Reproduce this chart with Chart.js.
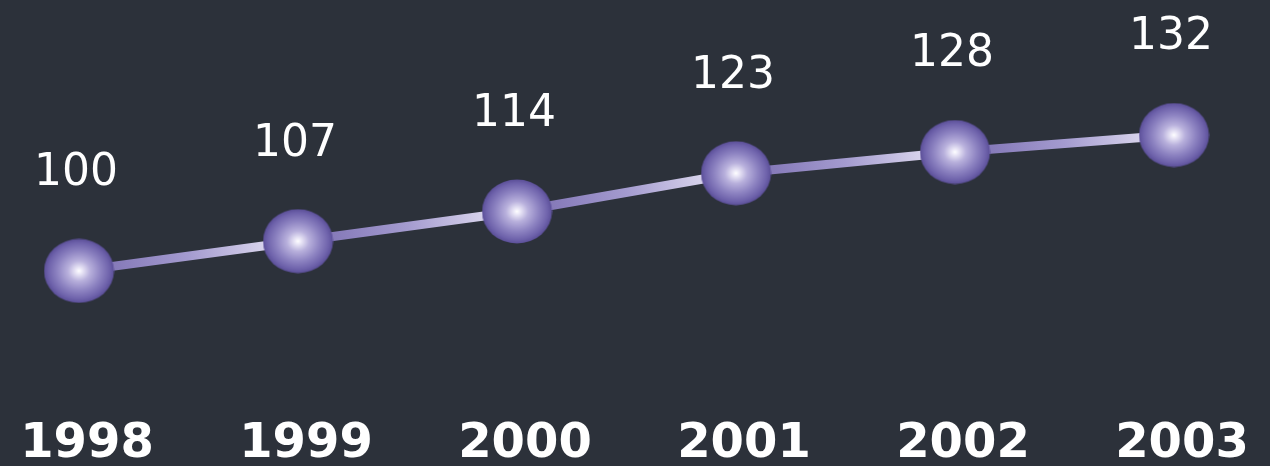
<!DOCTYPE html>
<html>
<head>
<meta charset="utf-8">
<script src="https://cdn.jsdelivr.net/npm/chart.js@4.4.1/dist/chart.umd.min.js"></script>
<style>
  html, body { margin: 0; padding: 0; background: #2c313a; }
  #wrap { width: 1270px; height: 466px; position: relative; }
</style>
</head>
<body>
<div id="wrap"><canvas id="c" width="1270" height="466"></canvas></div>
<script>
const years = ['1998', '1999', '2000', '2001', '2002', '2003'];
const indexValues = [100, 107, 114, 123, 128, 132];

// sphere marker image
function makeSphere(w, h) {
  const cv = document.createElement('canvas');
  cv.width = w; cv.height = h;
  const g = cv.getContext('2d');
  g.save();
  g.translate(w / 2, h / 2);
  g.scale(1, h / w);
  const r = w / 2 - 0.5;
  const grad = g.createRadialGradient(0, 0, 0, 0, 0, r);
  grad.addColorStop(0, '#ffffff');
  grad.addColorStop(0.08, '#eeebf9');
  grad.addColorStop(0.32, '#b8b0dc');
  grad.addColorStop(0.62, '#8e84c2');
  grad.addColorStop(0.88, '#6e62ab');
  grad.addColorStop(1, '#5b4f98');
  g.beginPath();
  g.arc(0, 0, r, 0, Math.PI * 2);
  g.fillStyle = grad;
  g.fill();
  g.restore();
  return cv;
}
const sphere = makeSphere(71, 65);

let chartRef = null;
function segGradient(ctx) {
  if (!chartRef) return '#8f84c0';
  const c = chartRef.ctx;
  const gr = c.createLinearGradient(ctx.p0.x, ctx.p0.y, ctx.p1.x, ctx.p1.y);
  gr.addColorStop(0, '#786baf');
  gr.addColorStop(0.5, '#a49bcf');
  gr.addColorStop(1, '#eeebf8');
  return gr;
}

const refPlugin = {
  id: 'ref',
  beforeInit(chart) { chartRef = chart; }
};

const labelPlugin = {
  id: 'valueLabels',
  afterDatasetsDraw(chart) {
    const c = chart.ctx;
    const meta = chart.getDatasetMeta(0);
    c.save();
    c.font = '44px "DejaVu Sans"';
    c.fillStyle = '#ffffff';
    c.textAlign = 'center';
    c.textBaseline = 'middle';
    meta.data.forEach((pt, i) => {
      c.fillText(String(chart.data.datasets[0].data[i]), pt.x - 3, pt.y - 97);
    });
    c.restore();
  }
};

const bgPlugin = {
  id: 'bg',
  beforeDraw(chart) {
    const c = chart.ctx;
    c.save();
    c.fillStyle = '#2c313a';
    c.fillRect(0, 0, chart.width, chart.height);
    c.restore();
  }
};

new Chart(document.getElementById('c'), {
  type: 'line',
  data: {
    labels: years,
    datasets: [{
      data: indexValues,
      borderWidth: 9,
      borderColor: '#8f84c0',
      segment: { borderColor: segGradient },
      pointStyle: sphere,
      pointRadius: 34,
      tension: 0,
      clip: false
    }]
  },
  options: {
    responsive: false,
    animation: false,
    events: [],
    layout: { autoPadding: false, padding: { left: 79, right: 96, top: 0, bottom: 0 } },
    plugins: { legend: { display: false }, tooltip: { enabled: false } },
    scales: {
      y: { display: false, min: 66.2, max: 163.8 },
      x: {
        offset: false,
        grid: { display: false },
        border: { display: false },
        ticks: {
          color: '#ffffff',
          font: { family: 'DejaVu Sans', size: 48, weight: 'bold' },
          padding: -7,
          labelOffset: 8,
          maxRotation: 0,
          autoSkip: false
        }
      }
    }
  },
  plugins: [refPlugin, bgPlugin, labelPlugin]
});
</script>
</body>
</html>
